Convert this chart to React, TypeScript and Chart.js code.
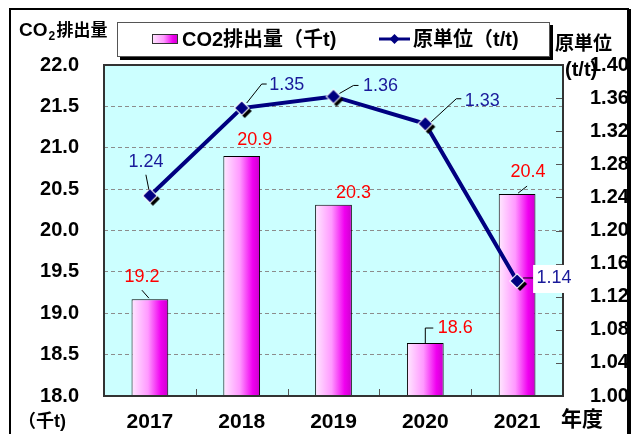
import React, { useEffect, useRef } from 'react';
import { Chart, registerables } from 'chart.js';

Chart.register(...registerables);

// ---- data ----
const YEARS = ['2017', '2018', '2019', '2020', '2021'];
const CO2_EMISSIONS = [19.17, 20.9, 20.31, 18.64, 20.44];
const INTENSITY = [1.242, 1.348, 1.362, 1.329, 1.139];
const LEFT_TICKS = [18.0, 18.5, 19.0, 19.5, 20.0, 20.5, 21.0, 21.5, 22.0];
const RIGHT_TICKS = [1.0, 1.04, 1.08, 1.12, 1.16, 1.2, 1.24, 1.28, 1.32, 1.36, 1.4];
const BAR_LABEL = 'CO2排出量（千t)';
const LINE_LABEL = '原単位（t/t)';

// ---- label placement (relative to marks) ----
const BAR_LABEL_POS = [[-8, -22], [13, -16], [20, -12], [30, -15], [11, -22]];
const BAR_LEADERS: (number[][] | null)[] = [
  [[-1, -1], [-8, -9]],
  null,
  null,
  [[0, 0], [0, -15], [8, -15]],
  [[1, -1], [10, -8]],
];
const LINE_LABEL_POS = [[-4, -34], [45, -23], [47, -10], [57, -23], [37, -3]];
const LINE_LEADERS: number[][][] = [
  [[-1, -6], [-4, -21]],
  [[5, -5], [20, -24], [25, -24]],
  [[6, -3], [20, -11], [25, -11]],
  [[6, -2], [31, -25], [36, -25]],
  [[6, -3], [16, -3]],
];

const FONT = '"Liberation Sans", Arial, "Noto Sans CJK JP", sans-serif';
const NAVY = '#000080';
const LABEL_NAVY = '#1a1a9a';

function barGradient(ctx: CanvasRenderingContext2D, x0: number, x1: number) {
  const g = ctx.createLinearGradient(x0, 0, x1, 0);
  g.addColorStop(0, '#ffe8ff');
  g.addColorStop(0.45, '#ff99ff');
  g.addColorStop(0.8, '#f000f0');
  g.addColorStop(1, '#cc00cc');
  return g;
}

function makeMarker() {
  const c = document.createElement('canvas');
  c.width = 28;
  c.height = 28;
  const g = c.getContext('2d')!;
  const diamond = (cx: number, cy: number, r: number) => {
    g.beginPath();
    g.moveTo(cx, cy - r);
    g.lineTo(cx + r, cy);
    g.lineTo(cx, cy + r);
    g.lineTo(cx - r, cy);
    g.closePath();
  };
  g.fillStyle = '#000';
  diamond(17, 17, 7);
  g.fill();
  g.fillStyle = '#fff';
  diamond(14, 14, 8);
  g.fill();
  g.fillStyle = NAVY;
  diamond(14, 14, 6.5);
  g.fill();
  return c;
}

const backgroundPlugin = {
  id: 'bgFrame',
  beforeDraw(chart: any) {
    const ctx = chart.ctx as CanvasRenderingContext2D;
    const { left, top, right, bottom } = chart.chartArea;
    ctx.save();
    ctx.fillStyle = '#fff';
    ctx.fillRect(0, 0, chart.width, chart.height);
    ctx.strokeStyle = '#000';
    ctx.lineWidth = 2;
    ctx.strokeRect(10, 9, 618, 440);
    ctx.fillStyle = '#000';
    ctx.fillRect(628, 9, 3, 430);
    ctx.fillStyle = '#ccffff';
    ctx.fillRect(left, top, right - left, bottom - top);
    ctx.restore();
  },
};

const decorPlugin = {
  id: 'decor',
  afterDatasetsDraw(chart: any) {
    const ctx = chart.ctx as CanvasRenderingContext2D;
    const { left, top, right, bottom } = chart.chartArea;
    const xs = chart.scales.x;
    const y1 = chart.scales.y1;
    ctx.save();
    // inner tick marks
    ctx.strokeStyle = '#555';
    ctx.lineWidth = 1;
    RIGHT_TICKS.forEach((v) => {
      const y = Math.round(y1.getPixelForValue(v)) + 0.5;
      ctx.beginPath();
      ctx.moveTo(right - 7, y);
      ctx.lineTo(right, y);
      ctx.stroke();
    });
    for (let i = 1; i < YEARS.length; i++) {
      const x = Math.round((xs.getPixelForValue(i - 1) + xs.getPixelForValue(i)) / 2) + 0.5;
      ctx.beginPath();
      ctx.moveTo(x, bottom);
      ctx.lineTo(x, bottom - 7);
      ctx.stroke();
    }
    // plot border
    ctx.strokeStyle = '#333';
    ctx.lineWidth = 2;
    ctx.strokeRect(left, top, right - left, bottom - top);

    // data labels
    ctx.font = '18px ' + FONT;
    ctx.textAlign = 'center';
    ctx.textBaseline = 'middle';
    const barMeta = chart.getDatasetMeta(0);
    barMeta.data.forEach((el: any, i: number) => {
      const lead = BAR_LEADERS[i];
      if (lead) {
        ctx.strokeStyle = '#000';
        ctx.lineWidth = 1;
        ctx.beginPath();
        lead.forEach((p, k) => {
          const px = el.x + p[0];
          const py = el.y + p[1];
          if (k === 0) ctx.moveTo(px, py);
          else ctx.lineTo(px, py);
        });
        ctx.stroke();
      }
      ctx.fillStyle = '#ff0000';
      const v = chart.data.datasets[0].data[i] as number;
      ctx.fillText(v.toFixed(1), el.x + BAR_LABEL_POS[i][0], el.y + BAR_LABEL_POS[i][1]);
    });
    const lineMeta = chart.getDatasetMeta(1);
    lineMeta.data.forEach((el: any, i: number) => {
      const lead = LINE_LEADERS[i];
      ctx.strokeStyle = '#000';
      ctx.lineWidth = 1;
      ctx.beginPath();
      lead.forEach((p, k) => {
        const px = el.x + p[0];
        const py = el.y + p[1];
        if (k === 0) ctx.moveTo(px, py);
        else ctx.lineTo(px, py);
      });
      ctx.stroke();
      const tx = el.x + LINE_LABEL_POS[i][0];
      const ty = el.y + LINE_LABEL_POS[i][1];
      if (i === YEARS.length - 1) {
        ctx.fillStyle = '#fff';
        ctx.fillRect(tx - 21, ty - 13, 39, 28);
      }
      ctx.fillStyle = LABEL_NAVY;
      const v = chart.data.datasets[1].data[i] as number;
      ctx.fillText(v.toFixed(2), tx, ty);
    });
    ctx.restore();
  },
  afterDraw(chart: any) {
    const ctx = chart.ctx as CanvasRenderingContext2D;
    ctx.save();
    // legend box
    ctx.fillStyle = '#000';
    ctx.fillRect(120, 25, 433, 35);
    ctx.fillStyle = '#fff';
    ctx.fillRect(117, 22, 433, 35);
    ctx.strokeStyle = '#555';
    ctx.lineWidth = 1;
    ctx.strokeRect(117.5, 22.5, 432, 34);
    // bar swatch
    ctx.fillStyle = barGradient(ctx, 152, 178);
    ctx.fillRect(152, 34, 26, 10);
    ctx.strokeStyle = '#333';
    ctx.strokeRect(152.5, 34.5, 25, 9);
    // line swatch
    ctx.strokeStyle = NAVY;
    ctx.lineWidth = 3;
    ctx.beginPath();
    ctx.moveTo(379, 39);
    ctx.lineTo(410, 39);
    ctx.stroke();
    ctx.fillStyle = NAVY;
    ctx.beginPath();
    ctx.moveTo(394.5, 34);
    ctx.lineTo(399.5, 39);
    ctx.lineTo(394.5, 44);
    ctx.lineTo(389.5, 39);
    ctx.closePath();
    ctx.fill();
    ctx.fillStyle = '#000';
    ctx.font = 'bold 20px ' + FONT;
    ctx.textAlign = 'left';
    ctx.textBaseline = 'middle';
    ctx.fillText(chart.data.datasets[0].label, 182, 40);
    ctx.fillText(chart.data.datasets[1].label, 413, 40);

    // axis titles
    ctx.font = 'bold 19px ' + FONT;
    ctx.textBaseline = 'alphabetic';
    ctx.fillText('CO', 19, 36);
    const coW = ctx.measureText('CO').width;
    ctx.font = 'bold 12px ' + FONT;
    ctx.fillText('2', 19 + coW + 1, 40);
    ctx.font = 'bold 17px ' + FONT;
    ctx.fillText('排出量', 19 + coW + 9, 36);

    ctx.textBaseline = 'middle';
    ctx.font = 'bold 19px ' + FONT;
    ctx.fillText('原単位', 555, 45);
    ctx.font = 'bold 20px ' + FONT;
    ctx.fillText('(t/t)', 565, 70);
    ctx.font = 'bold 18px ' + FONT;
    ctx.fillText('（千t)', 18, 422);
    ctx.font = 'bold 21px ' + FONT;
    ctx.fillText('年度', 561, 420);
    ctx.restore();
  },
};

export default function App() {
  const ref = useRef<HTMLCanvasElement | null>(null);
  useEffect(() => {
    if (!ref.current) return;
    const marker = makeMarker();
    const chart = new Chart(ref.current, {
      data: {
        labels: YEARS,
        datasets: [
          {
            type: 'bar',
            label: BAR_LABEL,
            data: CO2_EMISSIONS,
            yAxisID: 'y',
            order: 1,
            borderColor: '#000',
            borderWidth: 1,
            barPercentage: 0.4,
            categoryPercentage: 1,
            backgroundColor: (c: any) => {
              const ch = c.chart;
              const xs = ch.scales && ch.scales.x;
              if (!xs || c.dataIndex === undefined || !ch.chartArea) return '#ff88ff';
              const cx = xs.getPixelForValue(c.dataIndex);
              const w = (xs.width / YEARS.length) * 0.4;
              return barGradient(ch.ctx, cx - w / 2, cx + w / 2);
            },
          } as any,
          {
            type: 'line',
            label: LINE_LABEL,
            data: INTENSITY,
            yAxisID: 'y1',
            order: 0,
            borderColor: NAVY,
            borderWidth: 4,
            pointStyle: marker as any,
            pointRadius: 6,
            pointHoverRadius: 6,
            tension: 0,
          } as any,
        ],
      },
      options: {
        animation: false,
        responsive: false,
        devicePixelRatio: 1,
        events: [],
        layout: { padding: { top: 65, left: 0, right: 0, bottom: 0 } },
        plugins: { legend: { display: false }, tooltip: { enabled: false } },
        scales: {
          x: {
            type: 'category',
            offset: true,
            grid: { display: false },
            border: { display: false },
            ticks: {
              color: '#000',
              font: { family: FONT, size: 21, weight: 'bold' },
              padding: 6,
              maxRotation: 0,
            },
            afterFit: (s: any) => {
              s.height = 38;
            },
          },
          y: {
            type: 'linear',
            position: 'left',
            min: 18,
            max: 22,
            afterBuildTicks: (s: any) => {
              s.ticks = LEFT_TICKS.map((v) => ({ value: v }));
            },
            ticks: {
              color: '#000',
              font: { family: FONT, size: 20, weight: 'bold' },
              padding: 25,
              callback: (v: any) => Number(v).toFixed(1),
            },
            grid: {
              drawTicks: false,
              lineWidth: 1,
              color: (c: any) =>
                c.tick && (c.tick.value <= 18.001 || c.tick.value >= 21.999) ? 'rgba(0,0,0,0)' : '#8c8c8c',
            },
            border: { display: false, dash: [4, 3] },
            afterFit: (s: any) => {
              s.width = 104;
            },
          },
          y1: {
            type: 'linear',
            position: 'right',
            min: 1.0,
            max: 1.4,
            afterBuildTicks: (s: any) => {
              s.ticks = RIGHT_TICKS.map((v) => ({ value: v }));
            },
            ticks: {
              color: '#000',
              font: { family: FONT, size: 20, weight: 'bold' },
              padding: 19,
              callback: (v: any) => Number(v).toFixed(2),
            },
            grid: { display: false },
            border: { display: false },
            afterFit: (s: any) => {
              s.width = 71;
            },
          },
        },
      } as any,
      plugins: [backgroundPlugin, decorPlugin],
    });
    return () => chart.destroy();
  }, []);
  return (
    <div style={{ position: 'absolute', left: 0, top: 0, width: 634, height: 434 }}>
      <canvas ref={ref} width={634} height={434} style={{ display: 'block' }} />
    </div>
  );
}
